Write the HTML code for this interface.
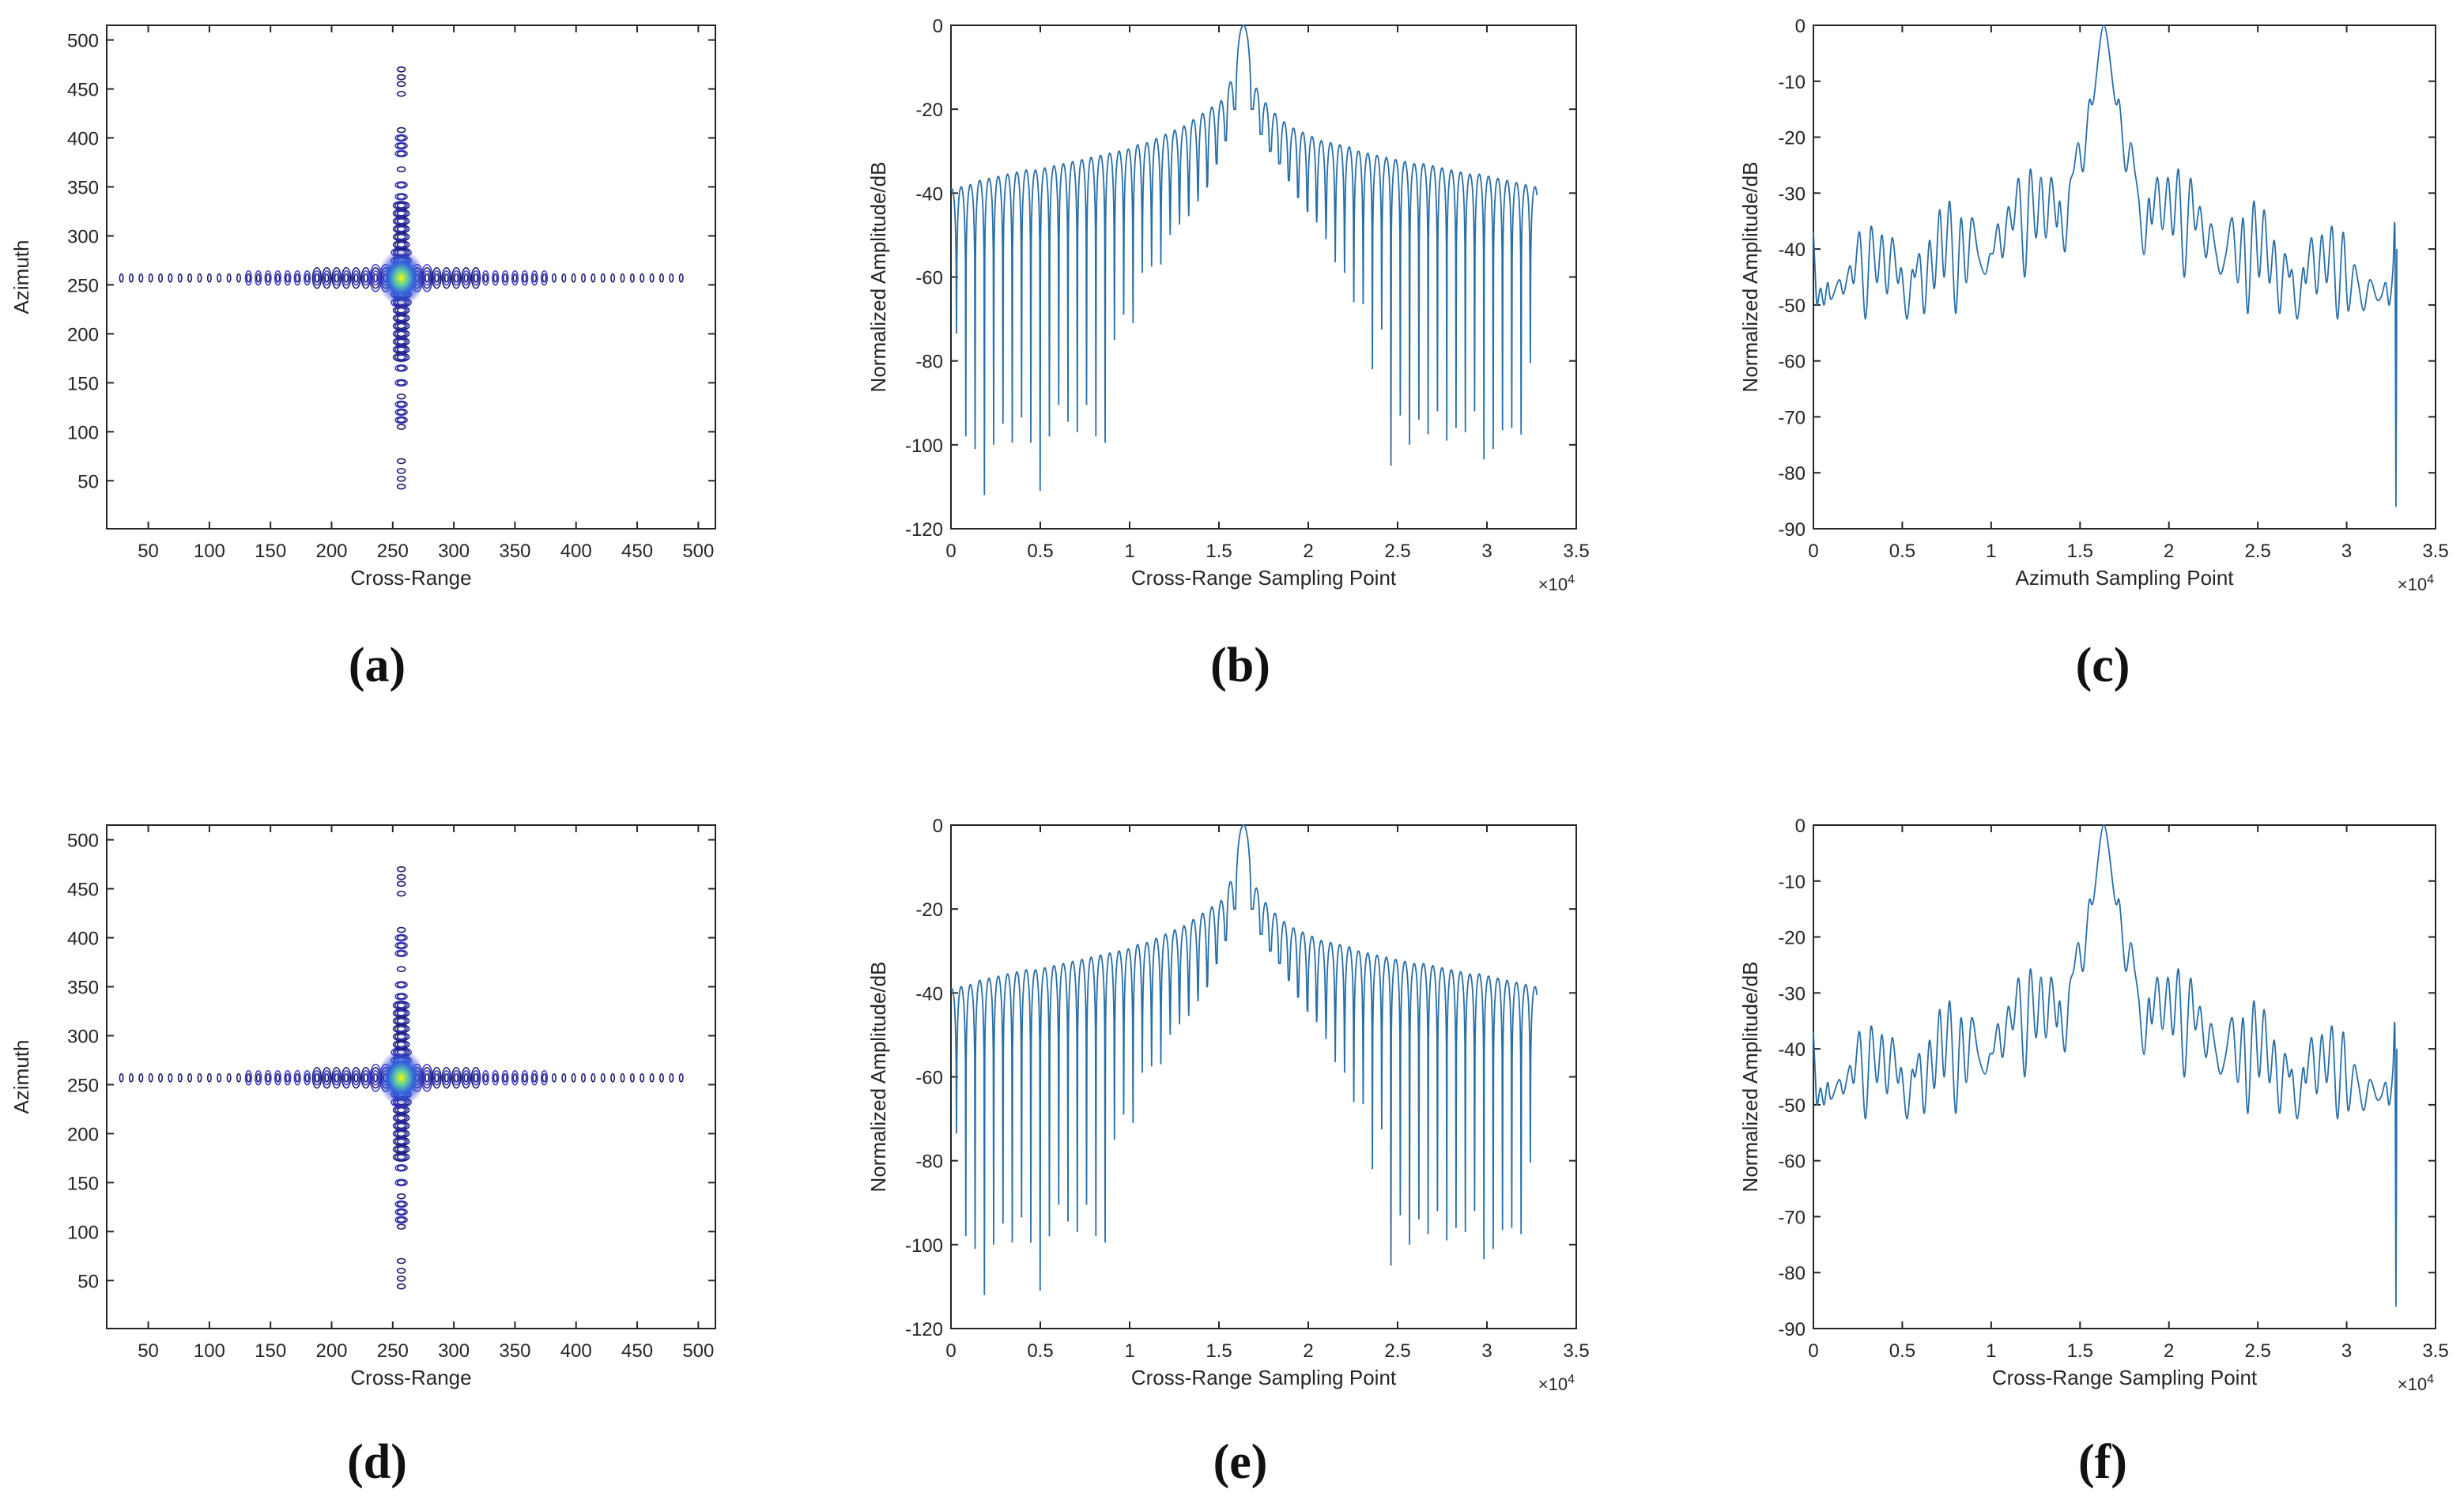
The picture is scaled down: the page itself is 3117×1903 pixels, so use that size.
<!DOCTYPE html>
<html><head><meta charset="utf-8">
<style>
html,body{margin:0;padding:0;background:#fff;}
svg{display:block;}
text{font-family:"Liberation Sans",sans-serif;fill:#262626;}
.sub{font-family:"Liberation Serif",serif;font-weight:bold;font-size:62px;fill:#111;}
</style></head>
<body>
<svg id="fig" xmlns="http://www.w3.org/2000/svg" width="3117" height="1903" viewBox="0 0 3117 1903"></svg>
<script>
// ---------- Panel (a)/(d) contour data ----------
const hChainX = [28,36,44,52,60,68,76,84,92,100,108,116,124,132,140,148,156,164,172,180,188,196,204,212,220,228,236,244,270,278,286,294,302,310,318,326,334,342,350,358,366,374,382,390,398,406,414,422,430,438,446,454,462,470,478,486];
const hChainLvl = [1,1,1,1,1,1,1,1,1,1,1,1,1,2,2,2,2,2,2,2,3,3,3,3,3,3,4,4,4,4,3,3,3,3,3,2,2,2,2,2,2,2,1,1,1,1,1,1,1,1,1,1,1,1,1,1];
const vChainY = [44,52,60,70,105,112,120,128,136,150,165,176,184,192,200,208,216,224,232,240,275,283,291,299,307,315,323,331,340,352,368,384,392,400,408,445,455,462,470];
const vChainLvl = [1,1,1,1,1,2,2,2,1,2,2,3,3,3,3,3,3,3,4,4,4,4,3,3,3,3,3,3,2,2,1,2,2,2,1,1,1,1,1];
const aTicks = [50,100,150,200,250,300,350,400,450,500];
// ---------- Panel (b)/(e) data ----------
const bTicksX = [0,0.5,1,1.5,2,2.5,3,3.5];
const bTicksY = [0,-20,-40,-60,-80,-100,-120];
const bLeftPeaks = [-13.5,-18,-19.5,-21,-22.5,-24,-25,-26,-27,-28,-28.5,-29.5,-30,-30.5,-31,-31.5,-32,-32.5,-33,-33.5,-34,-34.5,-34.5,-35,-35.5,-36,-36.5,-37,-38,-38.5,-39];
const bLeftNulls = [-27.5,-33,-38.5,-42,-45.5,-47.5,-50,-57,-57.5,-59,-71,-69,-75,-99.5,-98,-90.5,-97,-94.5,-90.5,-98,-111,-99.5,-93.5,-99.5,-95,-100,-112,-101,-98,-73.5,-60];
const bRightPeaks = [-15,-18.5,-21,-23,-24.5,-25.5,-26.5,-27.5,-28,-28.5,-29,-30,-30.5,-31,-31.5,-32,-32.5,-33,-33,-33.5,-34,-34.5,-35,-35.5,-35.5,-36,-36.5,-37,-37.5,-38,-38.5];
const bRightNulls = [-26,-30,-33,-37,-41,-44.5,-47,-51,-56.5,-59,-66,-66.5,-82,-72.5,-105,-93,-100,-94,-97.5,-92,-99,-96,-97,-92,-103.5,-101,-96.5,-96,-97.5,-80.5,-82];
const bMainNull = -20;
// ---------- Panel (c)/(f) data ----------
const cTicksY = [0,-10,-20,-30,-40,-50,-60,-70,-80,-90];
const cX = [0,0.01,0.02,0.04,0.06,0.08,0.1,0.145,0.17,0.205,0.228,0.26,0.293,0.324,0.357,0.386,0.414,0.443,0.474,0.495,0.526,0.554,0.572,0.598,0.624,0.653,0.681,0.71,0.736,0.767,0.8,0.83,0.86,0.89,0.927,0.966,0.992,1.013,1.039,1.065,1.096,1.124,1.156,1.189,1.22,1.252,1.28,1.308,1.337,1.368,1.386,1.415,1.44,1.464,1.49,1.518,1.55,1.575,1.634,1.697,1.722,1.756,1.785,1.808,1.83,1.86,1.886,1.905,1.935,1.964,1.995,2.023,2.054,2.086,2.12,2.147,2.176,2.207,2.235,2.264,2.29,2.32,2.357,2.388,2.418,2.444,2.477,2.507,2.536,2.565,2.593,2.622,2.65,2.676,2.694,2.722,2.754,2.772,2.803,2.832,2.86,2.888,2.918,2.948,2.98,3.008,3.04,3.065,3.096,3.13,3.17,3.195,3.22,3.24,3.26,3.272,3.277,3.282];
const cY = [-37,-44,-50,-47,-50,-46,-49,-45.5,-48,-43,-46,-37,-52.5,-36,-46,-37.5,-48,-38,-46,-43.5,-52.5,-44,-45,-41,-51.5,-38.5,-47,-33,-45,-31.5,-51.5,-34.5,-46,-34.5,-41,-44.5,-41,-40.5,-35.5,-41.5,-32.5,-36.5,-27.5,-45,-25.8,-38,-27.2,-38,-27.2,-36,-31.5,-40.5,-29,-26,-21,-26,-13.8,-13.5,0,-13.5,-13.8,-26,-21,-26,-31,-41,-31,-35.5,-27.2,-36.5,-27.2,-37.5,-25.8,-45,-27.5,-36.5,-32.5,-41.5,-35.5,-40.5,-44.5,-41,-34.5,-46,-34.5,-51.5,-31.5,-45,-33,-46,-38.5,-51.5,-41,-45,-44,-52.5,-43.5,-46,-38,-48,-37.5,-46,-36,-52.5,-37,-51,-43,-46,-51,-45.5,-49,-48.5,-46,-50,-44,-37.5,-86,-40];

const NS = "http://www.w3.org/2000/svg";
const svg = document.getElementById('fig');
function mk(tag, attrs, parent){
  const e = document.createElementNS(NS, tag);
  for (const k in attrs) e.setAttribute(k, attrs[k]);
  (parent||svg).appendChild(e);
  return e;
}
const LINE = "#2a6fa8";

function axes(g, L, R, T, B, xmin, xmax, ymin, ymax, xt, yt, xfmt, yfmt, xlabel, ylabel, ylabX, exp, prefix){
  const sx = v => L + (v - xmin) / (xmax - xmin) * (R - L);
  const sy = v => B - (v - ymin) / (ymax - ymin) * (B - T);
  const box = mk('rect', {x:L, y:T, width:R-L, height:B-T, fill:'#fff', stroke:'#262626', 'stroke-width':2}, g);
  
  
  xt.forEach(v => {
    const x = sx(v);
    mk('line', {x1:x, y1:B, x2:x, y2:B-9, stroke:'#262626','stroke-width':2}, g);
    mk('line', {x1:x, y1:T, x2:x, y2:T+9, stroke:'#262626','stroke-width':2}, g);
    const t = mk('text', {x:x, y:B+36, 'font-size':24, 'text-anchor':'middle'}, g);
    t.textContent = xfmt(v);
    
    
  });
  yt.forEach(v => {
    const y = sy(v);
    mk('line', {x1:L, y1:y, x2:L+9, y2:y, stroke:'#262626','stroke-width':2}, g);
    mk('line', {x1:R, y1:y, x2:R-9, y2:y, stroke:'#262626','stroke-width':2}, g);
    const t = mk('text', {x:L-10, y:y+9, 'font-size':24, 'text-anchor':'end'}, g);
    t.textContent = yfmt(v);
    
    
  });
  const xl = mk('text', {x:(L+R)/2, y:B+71, 'font-size':26, 'text-anchor':'middle'}, g);
  xl.textContent = xlabel;
  
  
  const yl = mk('text', {x:0, y:0, 'font-size':26, 'text-anchor':'middle', transform:`translate(${ylabX},${(T+B)/2}) rotate(-90)`}, g);
  yl.textContent = ylabel;
  
  
  if (exp){
    const ex = mk('text', {x:R-2, y:B+78, 'font-size':22, 'text-anchor':'end'}, g);
    ex.innerHTML = '×10<tspan dy="-9" font-size="16">4</tspan>';
    
    
  }
  return {sx, sy};
}

function subLabel(x, y, s){
  const t = mk('text', {x:x, y:y, 'text-anchor':'middle', class:'sub'});
  t.textContent = s;
  
  
}

function panelA(T, B, prefix){
  const L=135, R=905;
  const g = mk('g', {});
  
  
  const {sx, sy} = axes(g, L, R, T, B, 16, 514, 1, 515, aTicks, aTicks, v=>v, v=>v, 'Cross-Range', 'Azimuth', 36, false, prefix);
  const defs = mk('defs', {}, g);
  const rg = mk('radialGradient', {id:prefix+'grad', cx:'50%', cy:'50%', r:'50%'}, defs);
  mk('stop', {offset:'0%', 'stop-color':'#f5f500'}, rg);
  mk('stop', {offset:'25%', 'stop-color':'#60d0a0'}, rg);
  mk('stop', {offset:'55%', 'stop-color':'#3060e0'}, rg);
  mk('stop', {offset:'100%', 'stop-color':'#4040c0', 'stop-opacity':'0.0'}, rg);
  const yc = sy(257), xc = sx(257);
  hChainX.forEach((v,i) => {
    for (let k=0;k<hChainLvl[i];k++){
      const e = mk('ellipse', {cx:sx(v), cy:yc, rx:2.2+k*1.6, ry:5+k*4, fill:'none', stroke:k%2?'#3a3ad0':'#1c1c70', 'stroke-width':1.6}, g);
      
      
    }
  });
  vChainY.forEach((v,i) => {
    for (let k=0;k<vChainLvl[i];k++){
      const e = mk('ellipse', {cx:xc, cy:sy(v), rx:5+k*2.5, ry:3+k*1, fill:'none', stroke:k%2?'#3a3ad0':'#1c1c70', 'stroke-width':1.6}, g);
      
      
    }
  });
  const blob = mk('ellipse', {cx:xc, cy:yc, rx:30, ry:36, fill:`url(#${prefix}grad)`}, g);
  
  
}

function panelB(T, B, prefix, xlabel){
  const L=1203, R=1994;
  const g = mk('g', {});
  
  
  const {sx, sy} = axes(g, L, R, T, B, 0, 3.5, -120, 0, bTicksX, bTicksY, v=>v, v=>v, xlabel, 'Normalized Amplitude/dB', 1120, true, prefix);
  const mainC = 1.637, mainL = 1.591, mainR = 1.683, W = 0.052;
  const pts = [];
  // left lobes (outermost first)
  for (let k=bLeftPeaks.length-1;k>=0;k--){
    const a = mainL - (k+1)*W, b = mainL - k*W;
    const outer = bLeftNulls[k], inner = k===0 ? bMainNull : bLeftNulls[k-1];
    for (let j=0;j<=24;j++){
      const t=j/24, x=a+t*(b-a); if (x<0) continue;
      const s=Math.abs(Math.sin(Math.PI*t));
      let y = bLeftPeaks[k] + 20*Math.log10(Math.max(s,1e-6));
      y = Math.max(y, t<0.5 ? outer : inner);
      pts.push([x,y]);
    }
  }
  for (let j=0;j<=40;j++){
    const t=j/40, x=mainL+t*(mainR-mainL);
    const u = (x-mainC)/(t<0.5?mainC-mainL:mainR-mainC);
    let y = 20*Math.log10(Math.max(Math.cos(Math.PI*u/2),1e-6));
    pts.push([x, Math.max(y, bMainNull)]);
  }
  for (let k=0;k<bRightPeaks.length;k++){
    const a = mainR + k*W, b = mainR + (k+1)*W;
    const inner = k===0 ? bMainNull : bRightNulls[k-1], outer = bRightNulls[k];
    for (let j=0;j<=24;j++){
      const t=j/24, x=a+t*(b-a); if (x>3.28) continue;
      const s=Math.abs(Math.sin(Math.PI*t));
      let y = bRightPeaks[k] + 20*Math.log10(Math.max(s,1e-6));
      y = Math.max(y, t<0.5 ? inner : outer);
      pts.push([x,y]);
    }
  }
  const d = pts.map((p,i)=>(i?'L':'M')+sx(p[0]).toFixed(1)+','+sy(p[1]).toFixed(1)).join('');
  const path = mk('path', {d:d, fill:'none', stroke:LINE, 'stroke-width':1.8}, g);
  
  
}

function panelC(T, B, prefix, xlabel){
  const L=2294, R=3081;
  const g = mk('g', {});
  
  
  const {sx, sy} = axes(g, L, R, T, B, 0, 3.5, -90, 0, bTicksX, cTicksY, v=>v, v=>v, xlabel, 'Normalized Amplitude/dB', 2223, true, prefix);
  const P = cX.map((x,i)=>[sx(x), sy(cY[i])]);
  let d = 'M'+P[0][0]+','+P[0][1];
  for (let i=0;i<P.length-1;i++){
    const p0=P[Math.max(i-1,0)], p1=P[i], p2=P[i+1], p3=P[Math.min(i+2,P.length-1)];
    const c1x=p1[0]+(p2[0]-p0[0])/6, c1y=p1[1]+(p2[1]-p0[1])/6;
    const c2x=p2[0]-(p3[0]-p1[0])/6, c2y=p2[1]-(p3[1]-p1[1])/6;
    d += `C${c1x.toFixed(1)},${c1y.toFixed(1)} ${c2x.toFixed(1)},${c2y.toFixed(1)} ${p2[0].toFixed(1)},${p2[1].toFixed(1)}`;
  }
  const path = mk('path', {d:d, fill:'none', stroke:LINE, 'stroke-width':1.8}, g);
  
  
}

panelA(32, 669, 'a');
panelB(32, 669, 'b', 'Cross-Range Sampling Point');
panelC(32, 669, 'c', 'Azimuth Sampling Point');
panelA(1044, 1681, 'd');
panelB(1044, 1681, 'e', 'Cross-Range Sampling Point');
panelC(1044, 1681, 'f', 'Cross-Range Sampling Point');
subLabel(477, 862, '(a)');
subLabel(1569, 862, '(b)');
subLabel(2660, 862, '(c)');
subLabel(477, 1870, '(d)');
subLabel(1569, 1870, '(e)');
subLabel(2660, 1870, '(f)');
</script>
</body></html>
